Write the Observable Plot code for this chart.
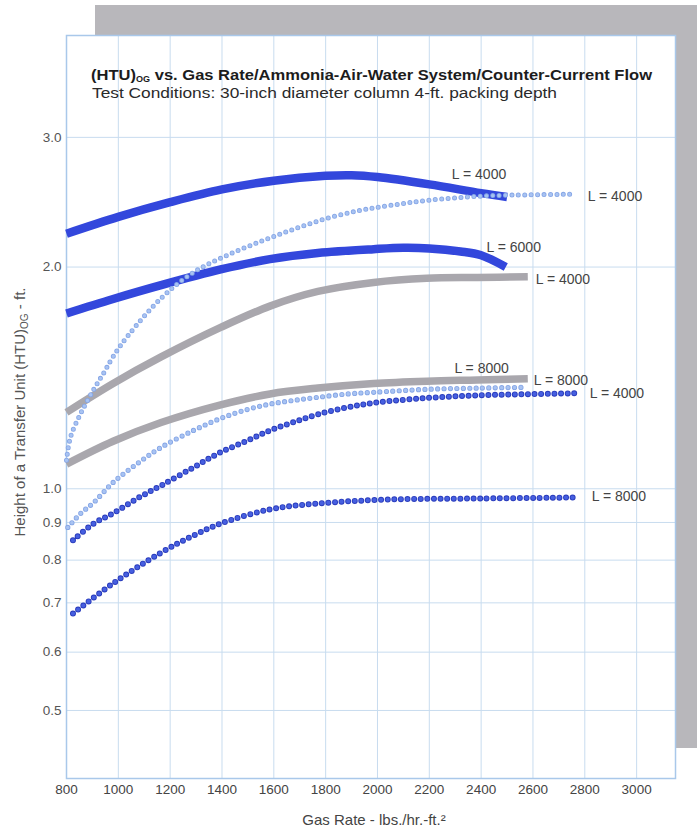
<!DOCTYPE html>
<html><head><meta charset="utf-8">
<script src="https://cdn.jsdelivr.net/npm/d3@7"></script>
<script src="https://cdn.jsdelivr.net/npm/@observablehq/plot@0.6"></script>
<style>
body{margin:0;background:#fff;}
#wrap{position:relative;width:697px;height:832px;overflow:hidden;}
#shadow{position:absolute;left:95px;top:5px;width:602px;height:743px;background:#b8b7bb;}
#chart{position:absolute;left:0;top:0;}
</style></head><body><div id="wrap"><div id="shadow"></div><div id="chart"></div></div>
<script>
// ---- tick labels ----
const xTicks = [800,1000,1200,1400,1600,1800,2000,2200,2400,2600,2800,3000];
const yTicks = [0.5,0.6,0.7,0.8,0.9,1.0,2.0,3.0];

// ---- series: gas rate (lbs/hr-ft2) and HTU (ft) ----
// thick blue, L = 4000
const gasThick4000 = [800,1000,1200,1400,1600,1800,1900,2000,2200,2400,2500];
const htuThick4000 = [2.22,2.34,2.45,2.55,2.62,2.66,2.665,2.65,2.59,2.52,2.49];
// thick blue, L = 6000
const gasThick6000 = [800,980,1165,1395,1585,1770,1985,2100,2200,2320,2400,2495];
const htuThick6000 = [1.73,1.81,1.89,1.985,2.05,2.09,2.115,2.124,2.12,2.10,2.075,2.00];
// gray, L = 4000
const gasGray4000 = [800,980,1165,1395,1585,1770,1985,2190,2385,2580];
const htuGray4000 = [1.27,1.39,1.51,1.656,1.77,1.853,1.906,1.931,1.936,1.94];
// gray, L = 8000
const gasGray8000 = [800,980,1165,1395,1585,1770,1985,2190,2385,2580];
const htuGray8000 = [1.08,1.16,1.23,1.30,1.345,1.37,1.39,1.40,1.405,1.41];
// light dotted, L = 4000
const gasLight4000 = [800,815,855,905,945,980,1035,1165,1290,1420,1550,1675,1805,1935,2050,2190,2385,2490,2750];
const htuLight4000 = [1.093,1.174,1.266,1.364,1.439,1.512,1.61,1.814,1.967,2.075,2.167,2.25,2.329,2.388,2.425,2.463,2.495,2.503,2.511];
// light dotted, L = 8000
const gasLight8000 = [805,855,905,980,1075,1165,1290,1395,1500,1585,1675,1770,1885,1985,2200,2400,2560];
const htuLight8000 = [0.886,0.926,0.958,1.02,1.083,1.138,1.20,1.246,1.282,1.303,1.318,1.331,1.345,1.352,1.365,1.37,1.373];
// dark dotted, L = 4000
const gasDark4000 = [825,905,980,1075,1165,1290,1395,1500,1585,1675,1770,1885,1985,2190,2385,2580,2765];
const htuDark4000 = [0.851,0.897,0.926,0.971,1.01,1.069,1.121,1.163,1.20,1.231,1.262,1.29,1.308,1.328,1.339,1.344,1.348];
// dark dotted, L = 8000
const gasDark8000 = [825,980,1165,1290,1395,1585,1770,2050,2400,2765];
const htuDark8000 = [0.677,0.744,0.819,0.864,0.897,0.9375,0.955,0.967,0.970,0.973];

const labelTexts = ["L = 4000","L = 6000","L = 8000"];

const rows = (gas, htu) => gas.map((g, i) => ({gas: g, htu: htu[i]}));
const thick4000 = rows(gasThick4000, htuThick4000);
const thick6000 = rows(gasThick6000, htuThick6000);
const gray4000 = rows(gasGray4000, htuGray4000);
const gray8000 = rows(gasGray8000, htuGray8000);
const light4000 = rows(gasLight4000, htuLight4000);
const light8000 = rows(gasLight8000, htuLight8000);
const dark4000 = rows(gasDark4000, htuDark4000);
const dark8000 = rows(gasDark8000, htuDark8000);
const last = (r, t) => [{...r[r.length - 1], t}];

const BLUE = "#3347dc", GRAY = "#a9a7ad";
const CURVE = "catmull-rom";
const thickLine = (d, stroke, w) => Plot.line(d, {x: "gas", y: "htu", stroke, strokeWidth: w, curve: CURVE, strokeLinecap: "butt"});
const dotLine = (d, outer, inner, wo, wi, gap) => [
  Plot.line(d, {x: "gas", y: "htu", stroke: outer, strokeWidth: wo, strokeLinecap: "round", strokeDasharray: `0 ${gap}`, curve: CURVE}),
  Plot.line(d, {x: "gas", y: "htu", stroke: inner, strokeWidth: wi, strokeLinecap: "round", strokeDasharray: `0 ${gap}`, curve: CURVE})
];
const lab = (d, dx, dy, anchor) => Plot.text(d, {x: "gas", y: "htu", text: "t", dx, dy, textAnchor: anchor, fill: "#444", fontSize: 14});

const svg = Plot.plot({
  width: 697, height: 832,
  marginLeft: 66, marginRight: 22, marginTop: 35, marginBottom: 54,
  style: {fontFamily: "'Liberation Sans', Arial, sans-serif", fontSize: "13.5px", color: "#444", background: "transparent", overflow: "visible"},
  x: {type: "linear", domain: [800, 3150]},
  y: {type: "log", domain: [0.4042, 4.125]},
  marks: [
    Plot.frame({fill: "white", stroke: "none"}),
    Plot.gridX({ticks: xTicks, stroke: "#c8dcef", strokeOpacity: 1, strokeWidth: 1}),
    Plot.gridY({ticks: yTicks, stroke: "#c8dcef", strokeOpacity: 1, strokeWidth: 1}),
    Plot.frame({stroke: "#a9c8ea", strokeWidth: 1.5}),
    thickLine(gray4000, GRAY, 7.5),
    thickLine(gray8000, GRAY, 7.5),
    thickLine(thick4000, BLUE, 8.5),
    thickLine(thick6000, BLUE, 8.5),
    ...dotLine(light4000, "#86a6e6", "#a8c3f2", 5, 3.4, 6.4),
    ...dotLine(light8000, "#86a6e6", "#a8c3f2", 5.2, 3.6, 6.4),
    ...dotLine(dark4000, "#2a3cbc", "#465fe0", 6, 4.2, 6.6),
    ...dotLine(dark8000, "#2a3cbc", "#465fe0", 6, 4.2, 6.6),
    lab(last(thick4000, labelTexts[0]), -28, -22, "middle"),
    lab(last(light4000, labelTexts[0]), 16, 2, "start"),
    lab(last(thick6000, labelTexts[1]), 8, -20, "middle"),
    lab(last(gray4000, labelTexts[0]), 8, 3, "start"),
    lab(last(gray8000, labelTexts[2]), 6, 2, "start"),
    lab(last(light8000, labelTexts[2]), -41, -19, "middle"),
    lab(last(dark4000, labelTexts[0]), 14, 0, "start"),
    lab(last(dark8000, labelTexts[2]), 16, -1, "start"),
    Plot.axisX({ticks: xTicks, tickSize: 0, tickPadding: 6, tickFormat: d3.format("d"), fill: "#444", label: null}),
    Plot.axisY({ticks: yTicks, tickSize: 0, tickPadding: 5, tickFormat: d3.format(".1f"), fill: "#555", label: null})
  ]
});
document.getElementById("chart").appendChild(svg);

const s = d3.select(svg);
// title
const t1 = s.append("text").attr("x", 91).attr("y", 80).attr("text-anchor", "start").attr("font-weight", "bold").attr("font-size", 15.5)
  .attr("fill", "#1c1c1c").attr("textLength", 561).attr("lengthAdjust", "spacingAndGlyphs");
t1.append("tspan").text("(HTU)");
t1.append("tspan").attr("font-size", 8.5).attr("dy", 2).text("OG");
t1.append("tspan").attr("dy", -2).text(" vs. Gas Rate/Ammonia-Air-Water System/Counter-Current Flow");
s.append("text").attr("x", 92).attr("y", 98).attr("text-anchor", "start").attr("font-size", 15.5).attr("fill", "#2a2a2a")
  .attr("textLength", 465).attr("lengthAdjust", "spacingAndGlyphs")
  .text("Test Conditions: 30-inch diameter column 4-ft. packing depth");
// y-axis label
const yl = s.append("text").attr("transform", "translate(25,412) rotate(-90)").attr("text-anchor", "middle")
  .attr("font-size", 15).attr("fill", "#555");
yl.append("tspan").text("Height of a Transfer Unit (HTU)");
yl.append("tspan").attr("font-size", 10).attr("dy", 3).text("OG");
yl.append("tspan").attr("dy", -3).text(" - ft.");
// x-axis label
s.append("text").attr("x", 374).attr("y", 825).attr("text-anchor", "middle").attr("font-size", 15).attr("fill", "#444")
  .text("Gas Rate - lbs./hr.-ft.²");
</script></body></html>
